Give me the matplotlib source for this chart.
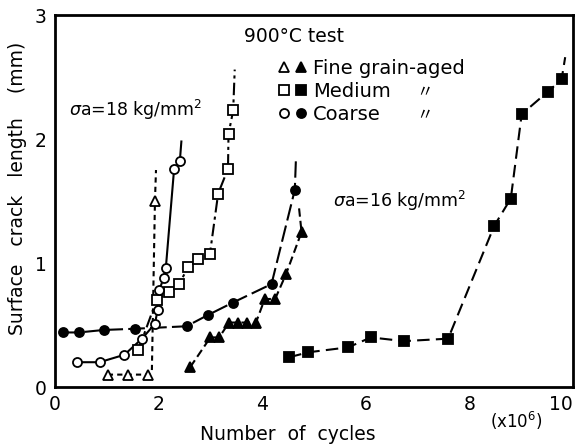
import matplotlib
matplotlib.use('Agg')
import matplotlib.pyplot as plt
from matplotlib.legend_handler import HandlerTuple

plt.rcParams['font.family'] = ['DejaVu Sans', 'Noto Sans CJK JP']

# 18 kg/mm2 series (open symbols)
fine_open_x = [1.02, 1.41, 1.80, 1.93]
fine_open_y = [0.10, 0.10, 0.10, 1.50]
fine_open_line_x = [1.02, 1.41, 1.80, 1.87, 1.93, 1.95]
fine_open_line_y = [0.10, 0.10, 0.10, 0.12, 1.50, 1.75]
med_open_x = [1.61, 1.96, 2.21, 2.40, 2.57, 2.76, 2.99, 3.15, 3.34, 3.35, 3.44]
med_open_y = [0.30, 0.70, 0.77, 0.83, 0.97, 1.03, 1.07, 1.56, 1.76, 2.04, 2.23]
med_open_tail = (3.47, 2.56)
coarse_open_x = [0.42, 0.86, 1.34, 1.68, 1.93, 1.98, 2.01, 2.10, 2.14, 2.30, 2.41]
coarse_open_y = [0.20, 0.20, 0.26, 0.39, 0.51, 0.62, 0.78, 0.88, 0.96, 1.76, 1.82]
coarse_open_tail = (2.44, 1.98)

# 16 kg/mm2 series (filled symbols)
fine_fill_x = [2.61, 3.00, 3.17, 3.36, 3.54, 3.70, 3.88, 4.05, 4.25, 4.46, 4.76]
fine_fill_y = [0.16, 0.40, 0.40, 0.52, 0.52, 0.52, 0.52, 0.71, 0.71, 0.91, 1.25]
fine_fill_tail = (4.71, 1.45)
med_fill_x = [4.52, 4.89, 5.66, 6.10, 6.74, 7.59, 8.48, 8.80, 9.01, 9.51, 9.78]
med_fill_y = [0.24, 0.28, 0.32, 0.40, 0.37, 0.39, 1.30, 1.52, 2.20, 2.38, 2.48]
med_fill_tail = (9.85, 2.66)
coarse_fill_x = [0.15, 0.46, 0.94, 1.55, 2.54, 2.95, 3.43, 4.18, 4.63]
coarse_fill_y = [0.44, 0.44, 0.46, 0.47, 0.49, 0.58, 0.68, 0.83, 1.59]
coarse_fill_tail = (4.65, 1.82)

fig = plt.figure(figsize=(5.77, 4.47), dpi=100)
ax = fig.add_axes([0.0953, 0.1342, 0.8977, 0.8322])

ms = 6.5
lw = 1.5

def series(x, y, marker, filled, ls, line_x=None, line_y=None):
    fc = 'black' if filled else 'white'
    ax.plot(line_x, line_y, color='black', lw=lw, ls=ls, zorder=2)
    ax.plot(x, y, ls='none', marker=marker, ms=ms, mfc=fc,
            mec='black', mew=1.3, zorder=3)

def with_tail(x, y, tail):
    return x + [tail[0]], y + [tail[1]]

series(fine_open_x, fine_open_y, '^', False, (0, (2.5, 2)),
       fine_open_line_x, fine_open_line_y)
series(med_open_x, med_open_y, 's', False, (0, (6, 2, 1.5, 2)),
       *with_tail(med_open_x, med_open_y, med_open_tail))
series(coarse_open_x, coarse_open_y, 'o', False, '-',
       *with_tail(coarse_open_x, coarse_open_y, coarse_open_tail))
series(fine_fill_x, fine_fill_y, '^', True, (0, (4, 2)),
       *with_tail(fine_fill_x, fine_fill_y, fine_fill_tail))
series(med_fill_x, med_fill_y, 's', True, (0, (6, 3)),
       *with_tail(med_fill_x, med_fill_y, med_fill_tail))
series(coarse_fill_x, coarse_fill_y, 'o', True, (0, (8, 2.5)),
       *with_tail(coarse_fill_x, coarse_fill_y, coarse_fill_tail))

ax.set_xlim(0, 10)
ax.set_ylim(0, 3)
ax.set_xticks([0, 2, 4, 6, 8, 10])
ax.set_yticks([0, 1, 2, 3])
ax.tick_params(direction='in', length=0, labelsize=13.5, pad=6)
ax.get_xticklabels()[-1].set_horizontalalignment('right')
for s in ax.spines.values():
    s.set_linewidth(2)

fig.text(18 / 577, 1 - 188 / 447, 'Surface   crack   length    (mm)', rotation=90,
         ha='center', va='center', fontsize=13.5)
fig.text(288 / 577, 1 - 435 / 447, 'Number  of  cycles', ha='center', va='center',
         fontsize=13.5)
fig.text(516 / 577, 1 - 421 / 447, r'(x10$^6$)', ha='center', va='center', fontsize=12)

ax.text(0.155, 0.745, r'$\sigma$a=18 kg/mm$^2$', transform=ax.transAxes,
        ha='center', va='center', fontsize=12.5)
ax.text(0.665, 0.50, r'$\sigma$a=16 kg/mm$^2$', transform=ax.transAxes,
        ha='center', va='center', fontsize=12.5)
fig.text(294 / 577, 1 - 37 / 447, '900°C test', ha='center', va='center',
         fontsize=13.5)

def mk(marker, filled):
    return plt.Line2D([], [], ls='none', marker=marker, ms=ms,
                      mfc='black' if filled else 'white', mec='black', mew=1.3)

handles = [(mk('^', False), mk('^', True)),
           (mk('s', False), mk('s', True)),
           (mk('o', False), mk('o', True))]
labels = ['Fine grain-aged', 'Medium', 'Coarse']
leg = ax.legend(handles, labels, handler_map={tuple: HandlerTuple(ndivide=None, pad=0.3)},
                loc='upper left', bbox_to_anchor=(278 / 577, 1 - 59 / 447),
                bbox_transform=fig.transFigure, frameon=False, fontsize=14,
                handlelength=1.5, handletextpad=0.3, labelspacing=0.2,
                borderpad=0, borderaxespad=0)

for yy in [93, 116]:
    fig.text(425 / 577, 1 - yy / 447, '〃', ha='center', va='center', fontsize=12,
             family=['Noto Sans CJK JP', 'DejaVu Sans'])

fig.savefig('out.png', dpi=100)
